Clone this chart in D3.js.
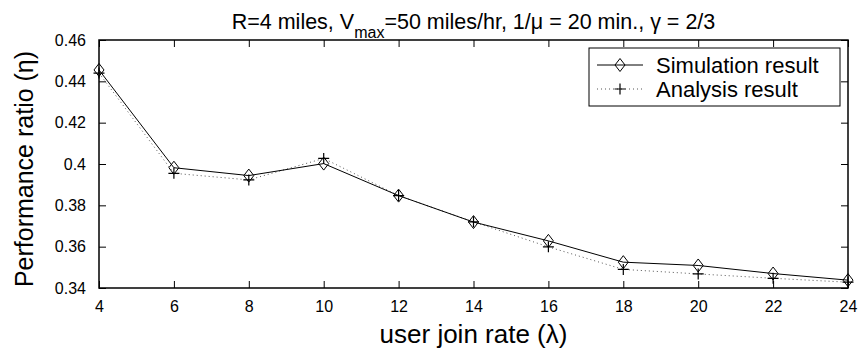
<!DOCTYPE html>
<html>
<head>
<meta charset="utf-8">
<script src="https://cdn.jsdelivr.net/npm/d3@7/dist/d3.min.js"></script>
<style>
body{margin:0;background:#fff;}
svg{display:block;font-family:"Liberation Sans",Arial,sans-serif;}
</style>
</head>
<body>
<svg id="chart" width="861" height="360"></svg>
<script>
const joinRates = [4, 6, 8, 10, 12, 14, 16, 18, 20, 22, 24];
const simulation = [0.4455, 0.3982, 0.3944, 0.4002, 0.3847, 0.3719, 0.3628, 0.3525, 0.3509, 0.3470, 0.3438];
const analysis   = [0.4440, 0.3955, 0.3923, 0.4027, 0.3847, 0.3720, 0.3599, 0.3490, 0.3468, 0.3447, 0.3428];
const xTicks = [4, 6, 8, 10, 12, 14, 16, 18, 20, 22, 24];
const yTicks = [0.34, 0.36, 0.38, 0.40, 0.42, 0.44, 0.46];
const yTickLabels = ["0.34", "0.36", "0.38", "0.4", "0.42", "0.44", "0.46"];
const seriesNames = ["Simulation result", "Analysis result"];

const svg = d3.select("#chart");
const L = 99, R = 848, T = 40, B = 288;
const x = d3.scaleLinear().domain([4, 24]).range([L, R]);
const y = d3.scaleLinear().domain([0.34, 0.46]).range([B, T]);

// axes (ticks inward)
const tickLen = 7;
svg.append("g").attr("transform", `translate(0,${B})`)
  .call(d3.axisBottom(x).tickValues(xTicks).tickSize(-tickLen).tickPadding(tickLen + 6).tickFormat(d3.format("d")))
  .call(g => g.select(".domain").remove())
  .call(g => g.selectAll("text").attr("font-size", 16).attr("fill", "#000"));
svg.append("g").attr("transform", `translate(0,${T})`)
  .call(d3.axisTop(x).tickValues(xTicks).tickSize(-tickLen).tickFormat(""))
  .call(g => g.select(".domain").remove());
svg.append("g").attr("transform", `translate(${L},0)`)
  .call(d3.axisLeft(y).tickValues(yTicks).tickSize(-tickLen).tickPadding(tickLen + 6).tickFormat((d, i) => yTickLabels[i]))
  .call(g => g.select(".domain").remove())
  .call(g => g.selectAll("text").attr("font-size", 16).attr("fill", "#000"));
svg.append("g").attr("transform", `translate(${R},0)`)
  .call(d3.axisRight(y).tickValues(yTicks).tickSize(-tickLen).tickFormat(""))
  .call(g => g.select(".domain").remove());
svg.selectAll(".tick line").attr("stroke", "#000").attr("stroke-width", 1);

// frame
svg.append("rect").attr("x", L).attr("y", T).attr("width", R - L).attr("height", B - T)
  .attr("fill", "none").attr("stroke", "#000").attr("stroke-width", 1.5);

const line = d3.line().x((d, i) => x(joinRates[i])).y(d => y(d));

svg.append("path").datum(analysis).attr("d", line)
  .attr("fill", "none").attr("stroke", "#555").attr("stroke-width", 1).attr("stroke-dasharray", "1,3");
svg.append("path").datum(simulation).attr("d", line)
  .attr("fill", "none").attr("stroke", "#000").attr("stroke-width", 1);

const diamond = (cx, cy) => `M${cx},${cy - 6.5}L${cx + 5},${cy}L${cx},${cy + 6.5}L${cx - 5},${cy}Z`;
const plus = (cx, cy) => `M${cx - 5.5},${cy}H${cx + 5.5}M${cx},${cy - 5.5}V${cy + 5.5}`;

svg.append("g").selectAll("path").data(analysis).join("path")
  .attr("d", (d, i) => plus(x(joinRates[i]), y(d)))
  .attr("stroke", "#000").attr("stroke-width", 1.2).attr("fill", "none");
svg.append("g").selectAll("path").data(simulation).join("path")
  .attr("d", (d, i) => diamond(x(joinRates[i]), y(d)))
  .attr("stroke", "#000").attr("stroke-width", 1).attr("fill", "none");

// title
const title = svg.append("text").attr("x", (L + R) / 2).attr("y", 29)
  .attr("text-anchor", "middle").attr("font-size", 21.5).attr("fill", "#000");
title.append("tspan").text("R=4 miles, V");
title.append("tspan").attr("dy", 9).attr("font-size", 16).text("max");
title.append("tspan").attr("dy", -9).text("=50 miles/hr, 1/\u03bc = 20 min., \u03b3 = 2/3");

// axis labels
svg.append("text").attr("x", (L + R) / 2).attr("y", 343).attr("text-anchor", "middle")
  .attr("font-size", 26).attr("fill", "#000").text("user join rate (\u03bb)");
svg.append("text").attr("transform", "translate(33,169) rotate(-90)").attr("text-anchor", "middle")
  .attr("font-size", 25).attr("fill", "#000").text("Performance ratio (\u03b7)");

// legend
const lg = svg.append("g");
lg.append("rect").attr("x", 589).attr("y", 48).attr("width", 251).attr("height", 58)
  .attr("fill", "#fff").attr("stroke", "#000").attr("stroke-width", 1);
const rows = [65, 89];
lg.append("line").attr("x1", 597).attr("x2", 643).attr("y1", rows[0]).attr("y2", rows[0])
  .attr("stroke", "#000").attr("stroke-width", 1);
lg.append("path").attr("d", diamond(620, rows[0])).attr("stroke", "#000").attr("fill", "none");
lg.append("line").attr("x1", 597).attr("x2", 643).attr("y1", rows[1]).attr("y2", rows[1])
  .attr("stroke", "#555").attr("stroke-width", 1).attr("stroke-dasharray", "1,3");
lg.append("path").attr("d", plus(620, rows[1])).attr("stroke", "#000").attr("stroke-width", 1.2).attr("fill", "none");
lg.selectAll("text.lbl").data(seriesNames).join("text").attr("class", "lbl")
  .attr("x", 656).attr("y", (d, i) => rows[i]).attr("dy", "0.35em")
  .attr("font-size", 22).attr("fill", "#000").text(d => d);
</script>
</body>
</html>
